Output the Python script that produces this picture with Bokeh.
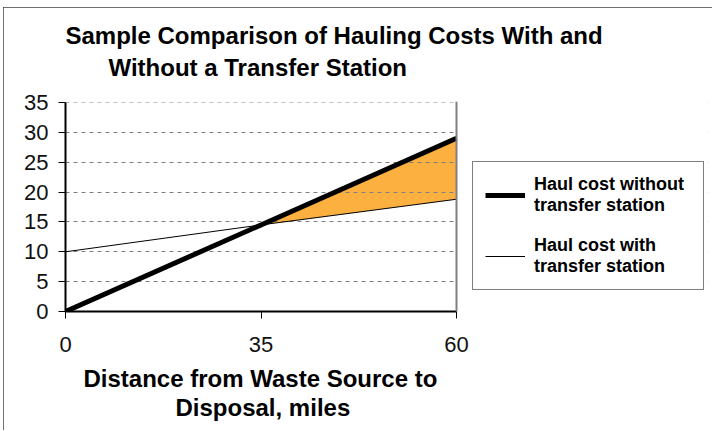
from bokeh.plotting import figure
from bokeh.models import Range1d, FixedTicker, Span, Title, Legend, LegendItem, BoxAnnotation
from bokeh.embed import file_html
from bokeh.resources import INLINE

# ---- data ----
distance_labels = ["0", "35", "60"]
cost_without_station = [0, 14.5, 29]
cost_with_station = [10, 14.5, 18.8]
y_tick_values = [0, 5, 10, 15, 20, 25, 30, 35]
title_lines = ["Sample Comparison of Hauling Costs With and", "Without a Transfer Station"]
x_label_lines = ["Distance from Waste Source to", "Disposal, miles"]
legend_labels = ["Haul cost without\ntransfer station", "Haul cost with\ntransfer station"]

positions = list(range(len(distance_labels)))
FONT = "Liberation Sans"

# layout (pixels)
W, H = 709, 423
BL, BR, BT, BB = 62, 4, 94, 119
PLOT_PX = 391                      # width of the 0..60 plot area
PLOT_PY = 209                      # height of the 0..35 plot area
frame_px = W - BL - BR
frame_py = H - BT - BB
x_end = positions[-1] * frame_px / PLOT_PX        # frame extends right to hold the legend
y_end = y_tick_values[-1] * frame_py / PLOT_PY    # 1px headroom so the top gridline shows

p = figure(width=W, height=H, output_backend="svg", toolbar_location=None,
           x_range=Range1d(positions[0], x_end),
           y_range=Range1d(y_tick_values[0], y_end),
           min_border_left=BL, min_border_right=BR, min_border_top=BT, min_border_bottom=BB)
p.styles = {"outline": "1px solid #404040", "outline-offset": "-1px",
            "margin-left": "3px", "margin-top": "7px"}
p.outline_line_color = None
p.background_fill_color = "white"
p.border_fill_color = "white"

# shaded savings area
p.varea(x=positions[1:], y1=cost_with_station[1:], y2=cost_without_station[1:],
        fill_color="#FBB040", level="image")

r_without = p.line(positions, cost_without_station, line_width=5, line_color="black")
r_with = p.line(positions, cost_with_station, line_width=1, line_color="black")

# axes
p.xaxis.ticker = FixedTicker(ticks=positions)
p.xaxis.major_label_overrides = {i: lbl for i, lbl in zip(positions, distance_labels)}
p.xaxis.bounds = (positions[0], positions[-1])
p.yaxis.ticker = FixedTicker(ticks=y_tick_values)
p.yaxis.bounds = (y_tick_values[0], y_tick_values[-1])
for ax in (p.xaxis, p.yaxis):
    ax.axis_line_width = 2
    ax.axis_line_color = "black"
    ax.major_tick_line_color = "black"
    ax.major_tick_line_width = 1
    ax.major_tick_out = 7
    ax.major_tick_in = 0
    ax.minor_tick_line_color = None
    ax.major_label_text_font = FONT
    ax.major_label_text_font_size = "22px"
    ax.major_label_text_color = "#111111"
p.yaxis.major_label_standoff = 10
p.xaxis.major_label_standoff = 18

p.xgrid.visible = False
p.ygrid.ticker = FixedTicker(ticks=y_tick_values)
p.ygrid.grid_line_color = "#808080"
p.ygrid.grid_line_dash = "4 4"
p.ygrid.grid_line_width = 1
p.ygrid.level = "underlay"

# blank out the area right of the plot (legend area)
p.add_layout(BoxAnnotation(left=positions[-1], fill_color="white", fill_alpha=1.0,
                           line_alpha=0, level="underlay"))
p.add_layout(BoxAnnotation(bottom=y_tick_values[-1], fill_color="white", fill_alpha=1.0,
                           line_alpha=0, level="underlay"))
p.add_layout(Span(location=positions[-1], dimension="height", line_color="#808080", line_width=2))

# spacer between frame and title
p.add_layout(Title(text=" ", text_font_size="10px", standoff=6), "above")
# title (two lines, outermost added last)
for txt, off, so in zip(reversed(title_lines), [43, 0], [3, 3]):
    p.add_layout(Title(text=txt, align="left", offset=off, text_font=FONT,
                       text_font_size="24px", text_font_style="bold", text_color="black",
                       standoff=so), "above")
# x axis label: spacer + two lines below the axis
p.add_layout(Title(text=" ", text_font_size="6px", standoff=0), "below")
for txt, off in zip(x_label_lines, [18, 110]):
    p.add_layout(Title(text=txt, align="left", offset=off, text_font=FONT,
                       text_font_size="24px", text_font_style="bold", text_color="black",
                       standoff=0), "below")

legend = Legend(items=[LegendItem(label=legend_labels[0], renderers=[r_without]),
                       LegendItem(label=legend_labels[1], renderers=[r_with])],
                location=(407, 21), orientation="vertical",
                padding=12, spacing=19, margin=0,
                glyph_width=40, glyph_height=20, label_standoff=9, label_width=157,
                label_text_font=FONT, label_text_font_size="18px", label_text_font_style="bold",
                label_text_color="black", label_text_line_height=1.1,
                border_line_color="black", border_line_width=1,
                background_fill_color="white", background_fill_alpha=1.0)
p.add_layout(legend, "center")

open("out.html", "w").write(file_html(p, INLINE))
